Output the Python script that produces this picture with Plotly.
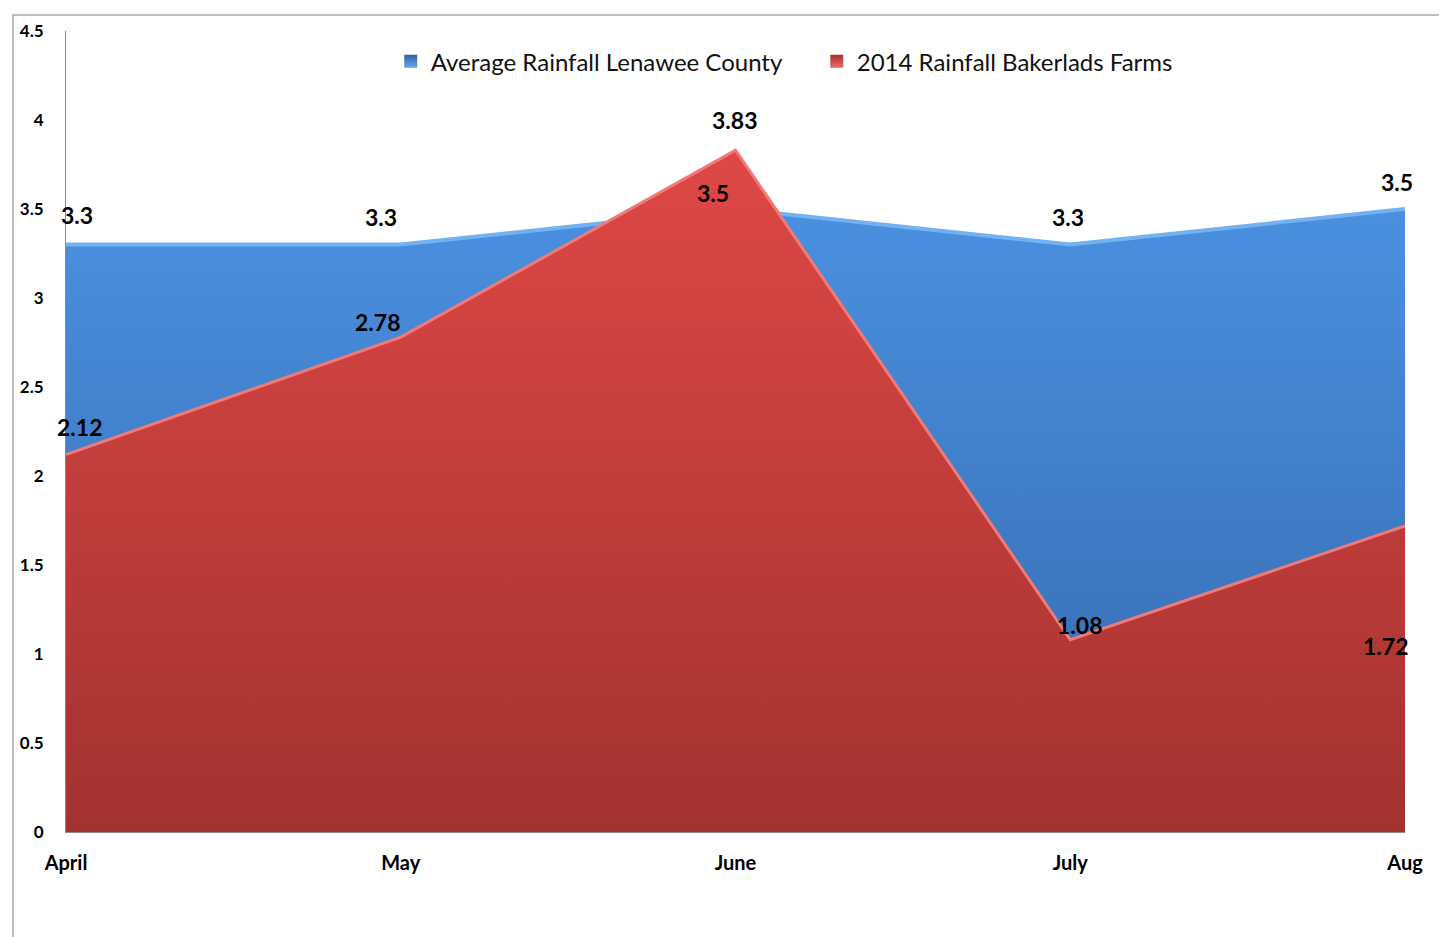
import plotly.graph_objects as go

months = ["April", "May", "June", "July", "Aug"]
avg_rain = [3.3, 3.3, 3.5, 3.3, 3.5]
rain_2014 = [2.12, 2.78, 3.83, 1.08, 1.72]
avg_name = "Average Rainfall Lenawee County"
farm_name = "2014 Rainfall Bakerlads Farms"

OFF = 8  # browser body margin
W, H = 1447 - OFF, 937 - OFF
# plot area on the page: x 62..1405, y 25..832
L, T = 62 - OFF, 25 - OFF
R, B = W - (1405 - OFF), H - (832 - OFF)
pw = W - L - R
ph = H - T - B

def px_x(x):
    return (x - 62) / pw

def px_y(y):
    return (832 - y) / ph

fig = go.Figure()
fig.add_trace(go.Scatter(
    x=months, y=avg_rain, name=avg_name, mode="lines", fill="tozeroy",
    line=dict(color="#72b2f2", width=4), showlegend=False,
    fillgradient=dict(type="vertical",
                      colorscale=[[0, "#3568ad"], [1, "#4a90df"]]),
))
fig.add_trace(go.Scatter(
    x=months, y=rain_2014, name=farm_name, mode="lines", fill="tozeroy",
    line=dict(color="#f07a78", width=3), showlegend=False,
    fillgradient=dict(type="vertical",
                      colorscale=[[0, "#a23230"], [1, "#de4846"]]),
))
# legend entries with square symbols
fig.add_trace(go.Scatter(
    x=[None], y=[None], name=avg_name, mode="markers",
    marker=dict(symbol="square", size=13, color="#2f62a8",
                gradient=dict(type="vertical", color="#6aa8ee"),
                line=dict(width=0)),
))
fig.add_trace(go.Scatter(
    x=[None], y=[None], name=farm_name, mode="markers",
    marker=dict(symbol="square", size=13, color="#a8302e",
                gradient=dict(type="vertical", color="#ee6a68"),
                line=dict(width=0)),
))

lab_font = dict(family="Lato", size=23, color="black", weight="bold")
avg_shift = [(11, 30), (-20, 28), (-23, 16), (-2, 28), (-8, 27)]
farm_shift = [(13, 28), (-23, 15), (-1, 30), (9, 15), (-20, -120)]
ann = []
for m, v, (dx, dy) in zip(months, avg_rain, avg_shift):
    ann.append(dict(x=m, y=v, text=str(v), showarrow=False, xshift=dx, yshift=dy, font=lab_font))
for m, v, (dx, dy) in zip(months, rain_2014, farm_shift):
    ann.append(dict(x=m, y=v, text=str(v), showarrow=False, xshift=dx, yshift=dy, font=lab_font))

fig.update_layout(
    width=W, height=H, margin=dict(l=L, r=R, t=T, b=B),
    paper_bgcolor="white", plot_bgcolor="white",
    font=dict(family="Lato", color="black"),
    annotations=ann,
    legend=dict(orientation="h", x=px_x(815), xanchor="center",
                y=px_y(56), yanchor="middle",
                font=dict(family="Lato", size=24, color="#111"),
                bgcolor="rgba(0,0,0,0)", itemwidth=30,
                entrywidth=381, entrywidthmode="pixels",
                itemsizing="trace"),
    xaxis=dict(range=[0, 4], showgrid=False, zeroline=False, showline=True,
               linecolor="#888888", linewidth=1, ticks="",
               tickfont=dict(family="Lato", size=20, color="black", weight="bold"),
               ticklabelstandoff=13),
    yaxis=dict(range=[0, 4.5], dtick=0.5, showgrid=False, zeroline=False,
               showline=True, linecolor="#888888", linewidth=1, ticks="",
               tickfont=dict(family="Lato", size=17, color="black", weight="bold"),
               ticklabelstandoff=18),
    shapes=[dict(type="rect", xref="paper", yref="paper",
                 x0=px_x(8.8), x1=px_x(1442),
                 y0=px_y(945), y1=px_y(8.8),
                 line=dict(color="#aaaaaa", width=1.5), fillcolor="rgba(0,0,0,0)",
                 layer="below")],
)
fig.write_html("out.html")
